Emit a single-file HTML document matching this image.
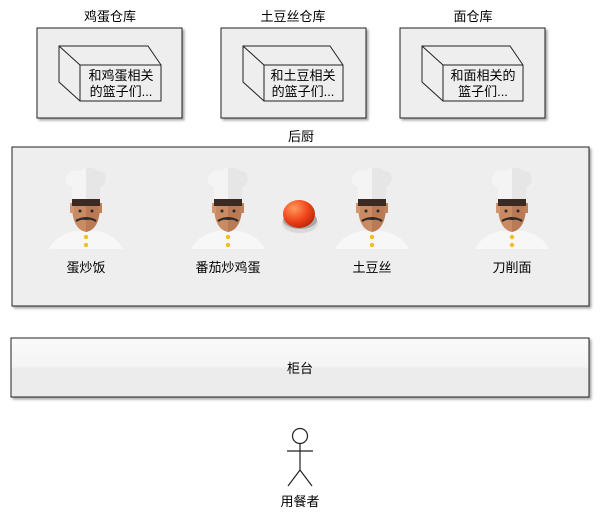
<!DOCTYPE html>
<html><head><meta charset="utf-8"><style>
body{margin:0;background:#fff;}
svg{display:block;font-family:"Liberation Sans","Noto Sans CJK SC",sans-serif;}
</style></head><body>
<svg width="602" height="519" viewBox="0 0 602 519">
<defs>
<filter id="sh" x="-5%" y="-5%" width="115%" height="120%"><feDropShadow dx="2" dy="2" stdDeviation="1.2" flood-color="#000" flood-opacity="0.35"/></filter>
<linearGradient id="ctr" x1="0" y1="0" x2="0" y2="1"><stop offset="0" stop-color="#fafafa"/><stop offset="0.5" stop-color="#f4f4f4"/><stop offset="0.5" stop-color="#ececec"/><stop offset="1" stop-color="#ececec"/></linearGradient>
<radialGradient id="btn" cx="0.35" cy="0.3" r="0.75"><stop offset="0" stop-color="#ff9a5a"/><stop offset="0.6" stop-color="#f0441a"/><stop offset="1" stop-color="#b8280a"/></radialGradient>
<g id="chef">
<path d="M-37 36 Q-30 22 -12 18 L12 18 Q30 22 37 36 Z" fill="#f7f7f7"/>
<path d="M-14 -12 Q-15 16 0 19 Q15 16 14 -12 Z" fill="#c98b63"/>
<path d="M0 -12 L14 -12 Q15 16 0 19 Z" fill="#b97a55"/>
<rect x="-16" y="-10" width="4" height="10" fill="#d29670"/><rect x="12" y="-10" width="4" height="10" fill="#c08058"/>
<path d="M-14 -14 L14 -14 L14 -7 L-14 -7 Z" fill="#3a2a22"/>
<path d="M-10 8 Q0 2 10 8 Q6 5 0 6 Q-6 5 -10 8Z" fill="#2e2a28" stroke="#2e2a28" stroke-width="2"/>
<circle cx="-6" cy="-2" r="1.5" fill="#2a2a2a"/><circle cx="6" cy="-2" r="1.5" fill="#2a2a2a"/>
<path d="M-14 -14 L-14 -26 Q-22 -28 -20 -36 Q-16 -44 -6 -42 Q0 -48 8 -42 Q18 -44 20 -36 Q22 -28 14 -26 L14 -14 Z" fill="#f4f4f4"/>
<path d="M0 -45 Q8 -46 12 -42 Q20 -42 20 -34 Q20 -28 14 -26 L14 -14 L0 -14Z" fill="#e6e6e6"/>
<circle cx="0" cy="24" r="2.2" fill="#f0c020"/><circle cx="0" cy="32" r="2.2" fill="#f0c020"/>
</g>
</defs>
<g font-size="13" fill="#000">
<g>
<text x="110" y="21" text-anchor="middle">鸡蛋仓库</text>
<rect x="37" y="28" width="145" height="90" fill="#eeeeee" stroke="#222" filter="url(#sh)"/>
<path d="M59 46 L148 46 L161 65 L161 101 L80 101 L59 82 Z" fill="#eeeeee" stroke="#222"/>
<path d="M59 46 L80 65 L161 65 M80 65 L80 101" fill="none" stroke="#222"/>
<text x="121" y="80" text-anchor="middle">和鸡蛋相关</text><text x="121" y="96" text-anchor="middle">的篮子们...</text>
</g>
<g>
<text x="293" y="21" text-anchor="middle">土豆丝仓库</text>
<rect x="221" y="28" width="145" height="90" fill="#eeeeee" stroke="#222" filter="url(#sh)"/>
<path d="M243 46 L330 46 L343 65 L343 101 L264 101 L243 82 Z" fill="#eeeeee" stroke="#222"/>
<path d="M243 46 L264 65 L343 65 M264 65 L264 101" fill="none" stroke="#222"/>
<text x="303" y="80" text-anchor="middle">和土豆相关</text><text x="303" y="96" text-anchor="middle">的篮子们...</text>
</g>
<g>
<text x="473" y="21" text-anchor="middle">面仓库</text>
<rect x="400" y="28" width="145" height="90" fill="#eeeeee" stroke="#222" filter="url(#sh)"/>
<path d="M422 46 L510 46 L523 65 L523 101 L443 101 L422 82 Z" fill="#eeeeee" stroke="#222"/>
<path d="M422 46 L443 65 L523 65 M443 65 L443 101" fill="none" stroke="#222"/>
<text x="483" y="80" text-anchor="middle">和面相关的</text><text x="483" y="96" text-anchor="middle">篮子们...</text>
</g>
<g>
<text x="301" y="141" text-anchor="middle">后厨</text>
<rect x="12" y="147" width="577" height="159" fill="#eeeeee" stroke="#222" filter="url(#sh)"/>
<g><use href="#chef" x="86" y="213"/><text x="86" y="272" text-anchor="middle">蛋炒饭</text></g>
<g><use href="#chef" x="228" y="213"/><text x="228" y="272" text-anchor="middle">番茄炒鸡蛋</text></g>
<g>
<ellipse cx="300" cy="223" rx="18" ry="10" fill="#d8d8d8"/><ellipse cx="300" cy="220" rx="17" ry="9" fill="#a8a8a8"/>
<ellipse cx="299" cy="214" rx="16" ry="14" fill="url(#btn)"/></g>
<g><use href="#chef" x="372" y="213"/><text x="372" y="272" text-anchor="middle">土豆丝</text></g>
<g><use href="#chef" x="512" y="213"/><text x="512" y="272" text-anchor="middle">刀削面</text></g>
</g>
<g>
<rect x="11" y="338" width="578" height="59" fill="url(#ctr)" stroke="#222" filter="url(#sh)"/>
<text x="300" y="373" text-anchor="middle">柜台</text>
</g>
<g fill="none" stroke="#222" stroke-width="1.2">
<circle cx="300" cy="436" r="7.5" fill="#fff"/>
<line x1="300" y1="444" x2="300" y2="470"/><line x1="287" y1="451" x2="313" y2="451"/>
<line x1="300" y1="470" x2="288" y2="486"/><line x1="300" y1="470" x2="312" y2="486"/>
</g>
<text x="300" y="506" text-anchor="middle">用餐者</text>
</g>
</svg>
</body></html>
